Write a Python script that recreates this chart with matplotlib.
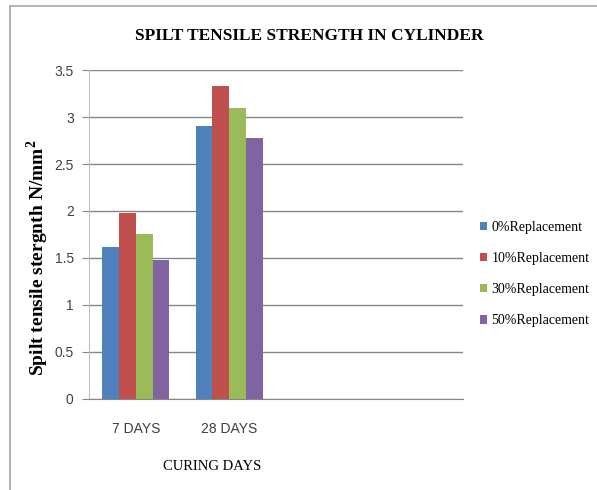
import numpy as np
import matplotlib.pyplot as plt
from matplotlib.lines import Line2D

categories = ["7 DAYS", "28 DAYS", "", ""]
series_names = ["0%Replacement", "10%Replacement", "30%Replacement", "50%Replacement"]
values_0 = [1.62, 2.90]
values_10 = [1.98, 3.33]
values_30 = [1.76, 3.10]
values_50 = [1.48, 2.78]
yticks = [0, 0.5, 1, 1.5, 2, 2.5, 3, 3.5]
colors = ["#4F81BD", "#C0504D", "#9BBB59", "#8064A2"]

serif = ["Liberation Serif", "DejaVu Serif"]
sans = ["Liberation Sans Narrow", "Liberation Sans", "DejaVu Sans"]

fig = plt.figure(figsize=(5.97, 4.9), dpi=100)
ax = fig.add_axes([0.149, 0.186, 0.627, 0.671])

x = np.arange(len(categories))
width = 0.18
all_series = [values_0, values_10, values_30, values_50]
for i, (vals, name) in enumerate(zip(all_series, series_names)):
    xs = x[:len(vals)] + (i - 1.5) * width
    ax.bar(xs, vals, width, color=colors[i], label=name, zorder=3)

ax.set_xlim(-0.5, len(categories) - 0.5)
ax.set_ylim(0, 3.5)
ax.set_yticks(yticks)
ax.set_yticklabels([f"{t:g}" for t in yticks], family=sans, fontsize=10, color="#404040")
ax.set_xticks(x)
ax.set_xticklabels(categories, family=sans, fontsize=10, color="#404040")
ax.tick_params(axis="x", length=0, pad=17)
ax.tick_params(axis="y", length=5, color="#868686", pad=6)

ax.yaxis.grid(True, color="#868686", linewidth=1, zorder=0)
for s in ["top", "right"]:
    ax.spines[s].set_visible(False)
ax.spines["left"].set_color("#BFBFBF")
ax.spines["bottom"].set_color("#868686")
ax.spines["bottom"].set_zorder(4)

ax.set_title("SPILT TENSILE STRENGTH IN CYLINDER", family=serif, fontweight="bold",
             fontsize=12.5, pad=22, x=0.59)
ax.set_ylabel("Spilt tensile stergnth N/mm$^\\mathregular{2}$", family=serif,
              fontweight="bold", fontsize=14)
ax.yaxis.set_label_coords(-0.102, 0.43)
ax.set_xlabel("CURING DAYS", family=serif, fontsize=10.5)
ax.xaxis.set_label_coords(0.33, -0.185)

ax.legend(loc="center left", bbox_to_anchor=(1.01, 0.38), frameon=False,
          prop={"family": serif, "size": 10}, handlelength=0.55, handleheight=0.6,
          handletextpad=0.3, labelspacing=1.3)

fig.add_artist(Line2D([0.017, 0.017], [0, 0.988], color="#A6A6A6", linewidth=1.2))
fig.add_artist(Line2D([0.017, 1], [0.988, 0.988], color="#A6A6A6", linewidth=1.2))

fig.savefig("out.png", dpi=100)
